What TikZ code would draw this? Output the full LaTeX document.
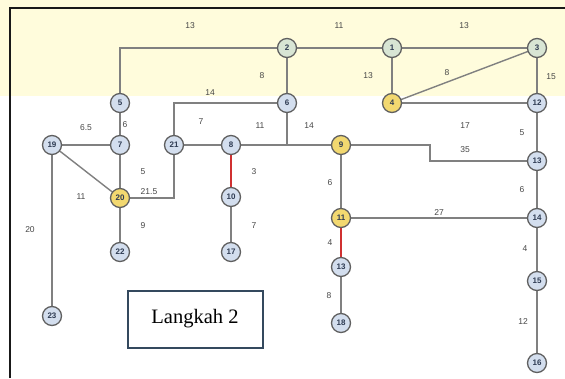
\documentclass[tikz,border=0pt]{standalone}
\usepackage{fontspec}
\setmainfont{Liberation Serif}
\setsansfont{Liberation Sans}
\definecolor{paleyel}{HTML}{FFFCDC}
\definecolor{nblue}{HTML}{D3DEEE}
\definecolor{ngreen}{HTML}{D8E5D4}
\definecolor{nyel}{HTML}{F2D870}
\definecolor{nedge}{HTML}{606060}
\definecolor{ltxt}{HTML}{2E3B52}
\definecolor{lgrey}{HTML}{808080}
\definecolor{lred}{HTML}{D03030}
\definecolor{boxc}{HTML}{34495E}
\begin{document}
\begin{tikzpicture}[x=1pt,y=-1pt,
  vtx/.style={circle,draw=nedge,line width=1.3pt,minimum size=19pt,inner sep=0pt,fill=nblue,
    font=\sffamily\bfseries\fontsize{8}{9}\selectfont,text=ltxt},
  gv/.style={vtx,fill=ngreen},
  yv/.style={vtx,fill=nyel},
  ed/.style={draw=lgrey,line width=1.4pt},
  red/.style={draw=lred,line width=2.8pt},
  wt/.style={font=\sffamily\fontsize{8.5}{9}\selectfont,text=black!72,inner sep=0pt}]
\useasboundingbox (0,0) rectangle (565,378);
\fill[white] (0,0) rectangle (565,378);
\fill[paleyel] (0,0) rectangle (565,96);
\draw[line width=2pt,black!90] (10,378) -- (10,8) -- (565,8);
% junction coordinates
\coordinate (c25) at (120,48);
\coordinate (c621) at (174,103);
\coordinate (j6) at (287,145);
\coordinate (c9a) at (430,145);
\coordinate (c9b) at (430,161);
\coordinate (c2021) at (174,198);
% nodes positions
\path
 (287,48) coordinate (p2) (392,48) coordinate (p1) (537,48) coordinate (p3)
 (120,103) coordinate (p5) (287,103) coordinate (p6) (392,103) coordinate (p4) (537,103) coordinate (p12)
 (52,145) coordinate (p19) (120,145) coordinate (p7) (174,145) coordinate (p21) (231,145) coordinate (p8) (341,145) coordinate (p9)
 (537,161) coordinate (p13r) (120,198) coordinate (p20) (231,197) coordinate (p10)
 (341,218) coordinate (p11) (537,218) coordinate (p14) (120,252) coordinate (p22) (231,252) coordinate (p17)
 (341,267) coordinate (p13m) (537,281) coordinate (p15) (52,316) coordinate (p23) (341,323) coordinate (p18) (537,363) coordinate (p16);
% edges
\draw[ed] (p2) -- (p1) -- (p3);
\draw[ed] (p2) -- (c25) -- (p5);
\draw[ed] (p2) -- (p6);
\draw[ed] (p1) -- (p4);
\draw[ed] (p4) -- (p3);
\draw[ed] (p3) -- (p12);
\draw[ed] (p4) -- (p12);
\draw[ed] (p6) -- (c621) -- (p21);
\draw[ed] (p5) -- (p7);
\draw[ed] (p19) -- (p7);
\draw[ed] (p21) -- (p8);
\draw[ed] (p6) -- (j6);
\draw[ed] (p8) -- (p9);
\draw[ed] (p9) -- (c9a) -- (c9b) -- (p13r);
\draw[ed] (p12) -- (p13r) -- (p14) -- (p15) -- (p16);
\draw[ed] (p9) -- (p11);
\draw[ed] (p11) -- (p14);
\draw[ed] (p13m) -- (p18);
\draw[ed] (p7) -- (p20);
\draw[ed] (p19) -- (p20);
\draw[ed] (p20) -- (c2021) -- (p21);
\draw[ed] (p10) -- (p17);
\draw[ed] (p20) -- (p22);
\draw[ed] (p19) -- (p23);
\draw[red] (p8) -- (p10);
\draw[red] (p11) -- (p13m);
% vertices
\node[gv] (n2) at (p2) {2};
\node[gv] (n1) at (p1) {1};
\node[gv] (n3) at (p3) {3};
\node[vtx] (n5) at (p5) {5};
\node[vtx] (n6) at (p6) {6};
\node[yv] (n4) at (p4) {4};
\node[vtx] (n12) at (p12) {12};
\node[vtx] (n19) at (p19) {19};
\node[vtx] (n7) at (p7) {7};
\node[vtx] (n21) at (p21) {21};
\node[vtx] (n8) at (p8) {8};
\node[yv] (n9) at (p9) {9};
\node[vtx] (n13r) at (p13r) {13};
\node[yv] (n20) at (p20) {20};
\node[vtx] (n10) at (p10) {10};
\node[yv] (n11) at (p11) {11};
\node[vtx] (n14) at (p14) {14};
\node[vtx] (n22) at (p22) {22};
\node[vtx] (n17) at (p17) {17};
\node[vtx] (n13m) at (p13m) {13};
\node[vtx] (n15) at (p15) {15};
\node[vtx] (n23) at (p23) {23};
\node[vtx] (n18) at (p18) {18};
\node[vtx] (n16) at (p16) {16};
% weights
\node[wt] (w1) at (190,26) {13};
\node[wt] (w2) at (339,26) {11};
\node[wt] (w3) at (464,26) {13};
\node[wt] (w4) at (262,76) {8};
\node[wt] (w5) at (368,76) {13};
\node[wt] (w6) at (447,73) {8};
\node[wt] (w7) at (551,77) {15};
\node[wt] (w8) at (210,93) {14};
\node[wt] (w9) at (125,125) {6};
\node[wt] (w10) at (86,128) {6.5};
\node[wt] (w11) at (201,122) {7};
\node[wt] (w12) at (260,126) {11};
\node[wt] (w13) at (309,126) {14};
\node[wt] (w14) at (465,126) {17};
\node[wt] (w15) at (522,133) {5};
\node[wt] (w16) at (465,150) {35};
\node[wt] (w17) at (143,172) {5};
\node[wt] (w18) at (254,172) {3};
\node[wt] (w19) at (330,183) {6};
\node[wt] (w20) at (522,190) {6};
\node[wt] (w21) at (81,197) {11};
\node[wt] (w22) at (149,192) {21.5};
\node[wt] (w23) at (439,213) {27};
\node[wt] (w24) at (143,226) {9};
\node[wt] (w25) at (254,226) {7};
\node[wt] (w26) at (30,230) {20};
\node[wt] (w27) at (330,243) {4};
\node[wt] (w28) at (525,249) {4};
\node[wt] (w29) at (329,296) {8};
\node[wt] (w30) at (523,322) {12};
% caption box
\node[draw=boxc,line width=2pt,fill=white,minimum width=135pt,minimum height=57pt,
  font=\fontsize{20.5}{22}\selectfont,text=black] (cap) at (195,319) {Langkah 2};
\end{tikzpicture}
\end{document}
